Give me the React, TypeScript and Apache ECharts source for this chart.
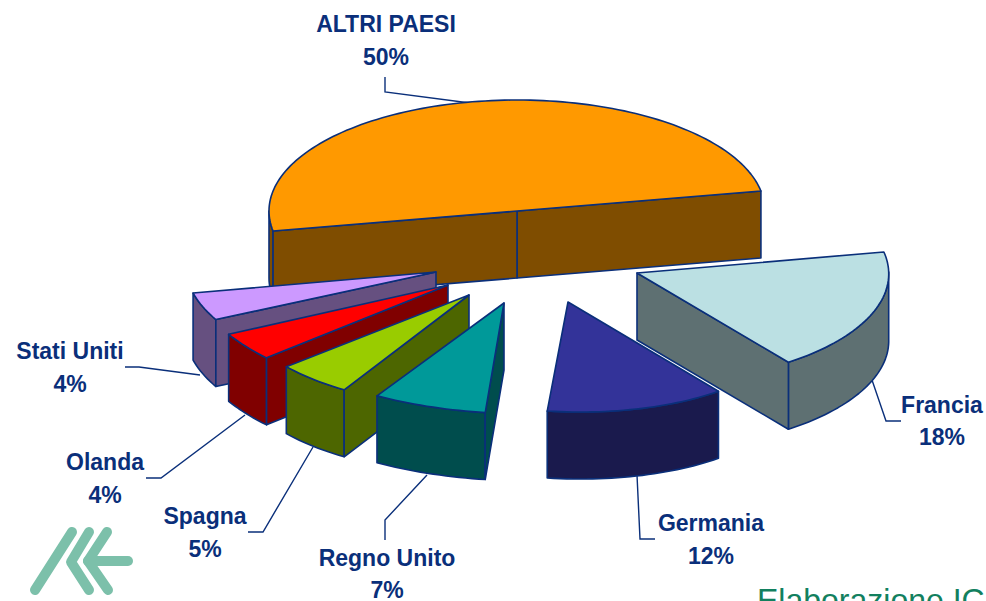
import React, { useEffect, useRef } from "react";
import * as echarts from "echarts";

const countries = ["ALTRI PAESI", "Stati Uniti", "Olanda", "Spagna", "Regno Unito", "Germania", "Francia"];
const shares = [50, 4, 4, 5, 7, 12, 18];
const topColors = ["#FF9900", "#CC99FF", "#FF0000", "#99CC00", "#009999", "#333399", "#BBE0E3"];
const sideColors = ["#7F4D00", "#665080", "#800000", "#4D6600", "#004D4D", "#1A1A4D", "#5E7072"];

const START_DEG = 10.4;
const RX = 248;
const RY = 111;
const DEPTH = 67;
const NAVY = "#0A2F7A";
const STROKE = 1.6;

// exploded apex of each wedge, plus the small rim offset and shear standing in for perspective
const apexes = [[517, 211], [436, 272], [448, 285], [469, 295], [504, 303], [568, 302], [637, 273]];
const rimOffsets = [[0, 0], [-2, 1], [-4, 2.7], [9.5, 1.5], [-30, -0.5], [-21, -1], [3.7, -1]];
const shears = [0, 0.15, 0.21, 0, 0.4, 0.3, 0.037];
const labelCenters = [[386, 24], [70, 351], [105, 462], [205, 516], [387, 558], [711, 523], [942, 405]];
const labelGaps = [33, 33, 33, 33, 32, 33, 32];
const leaders = [
  [[385, 77], [385, 92], [470, 103]],
  [[125, 367], [139, 367], [200, 375]],
  [[146, 478], [161, 478], [245, 415]],
  [[248, 532], [263, 532], [313, 447]],
  [[385, 540], [385, 520], [427, 475]],
  [[655, 539], [640, 539], [637, 475]],
  [[901, 421], [886, 421], [872, 380]],
];

const total = shares.reduce((a, b) => a + b, 0);
const rad = (d: number) => (d * Math.PI) / 180;

function renderSlice(params: any, api: any) {
  const i = params.dataIndex;
  const value = api.value(0);
  let before = 0;
  for (let k = 0; k < i; k++) before += shares[k];
  const t0 = START_DEG + (before / total) * 360;
  const t1 = t0 + (value / total) * 360;
  const [ax, ay] = apexes[i];
  const [ox, oy] = rimOffsets[i];
  const sh = shears[i];
  const rim = (deg: number, drop = 0) => {
    const dy = -RY * Math.sin(rad(deg));
    return [ax + ox + RX * Math.cos(rad(deg)) + sh * dy, ay + oy + dy + drop];
  };
  const arc = (a: number, b: number, drop = 0) => {
    const pts: number[][] = [];
    const n = Math.max(2, Math.ceil(Math.abs(b - a) / 1.5));
    for (let s = 0; s <= n; s++) pts.push(rim(a + ((b - a) * s) / n, drop));
    return pts;
  };
  const side = (points: number[][]) => ({
    type: "polygon",
    shape: { points },
    style: { fill: sideColors[i], stroke: NAVY, lineWidth: STROKE, lineJoin: "round" },
  });
  const children: any[] = [];
  children.push({
    type: "polyline",
    shape: { points: leaders[i] },
    style: { fill: "none", stroke: NAVY, lineWidth: 1.4 },
  });
  // outer wall: only the part of the rim that faces the viewer
  const ranges = [[180, 360], [540, 720]];
  for (const [lo, hi] of ranges) {
    const a = Math.max(t0, lo);
    const b = Math.min(t1, hi);
    if (b > a) children.push(side([...arc(a, b), ...arc(b, a, DEPTH)]));
  }
  // radial walls facing the viewer
  if (Math.cos(rad(t0)) > 0) {
    children.push(side([[ax, ay], rim(t0), rim(t0, DEPTH), [ax, ay + DEPTH]]));
  }
  if (Math.cos(rad(t1)) < 0) {
    children.push(side([[ax, ay], rim(t1), rim(t1, DEPTH), [ax, ay + DEPTH]]));
  }
  children.push({
    type: "polygon",
    shape: { points: [[ax, ay], ...arc(t0, t1)] },
    style: { fill: topColors[i], stroke: NAVY, lineWidth: STROKE, lineJoin: "round" },
  });
  const [lx, ly] = labelCenters[i];
  const font = "bold 23px 'Liberation Sans', Arial, sans-serif";
  children.push({
    type: "text",
    style: { text: countries[i], x: lx, y: ly, fill: NAVY, font, align: "center", verticalAlign: "middle" },
  });
  children.push({
    type: "text",
    style: { text: `${value}%`, x: lx, y: ly + labelGaps[i], fill: NAVY, font, align: "center", verticalAlign: "middle" },
  });
  return { type: "group", children };
}

const logoLines = [
  [[72, 532], [35, 590]],
  [[89, 532], [71, 562], [89, 590]],
  [[107, 532], [88, 561], [108, 590]],
  [[88, 561], [128, 561]],
];

export default function App() {
  const ref = useRef<HTMLDivElement>(null);
  useEffect(() => {
    document.body.style.margin = "0";
    document.body.style.overflow = "hidden";
    const chart = echarts.init(ref.current!, undefined, { renderer: "svg" });
    chart.setOption({
      animation: false,
      backgroundColor: "#FFFFFF",
      graphic: [
        ...logoLines.map((points) => ({
          type: "polyline",
          shape: { points },
          style: { fill: "none", stroke: "#7CC0AA", lineWidth: 10, lineCap: "round", lineJoin: "round" },
        })),
        {
          type: "text",
          x: 757,
          y: 584,
          style: { text: "Elaborazione IC", fill: "#12805E", font: "32px 'Liberation Sans', Arial, sans-serif" },
        },
      ],
      series: [
        {
          type: "custom",
          coordinateSystem: "none",
          renderItem: renderSlice,
          data: shares.map((v, i) => ({ name: countries[i], value: [v] })),
        },
      ],
    });
    return () => chart.dispose();
  }, []);
  return <div ref={ref} style={{ width: 986, height: 601 }} />;
}
